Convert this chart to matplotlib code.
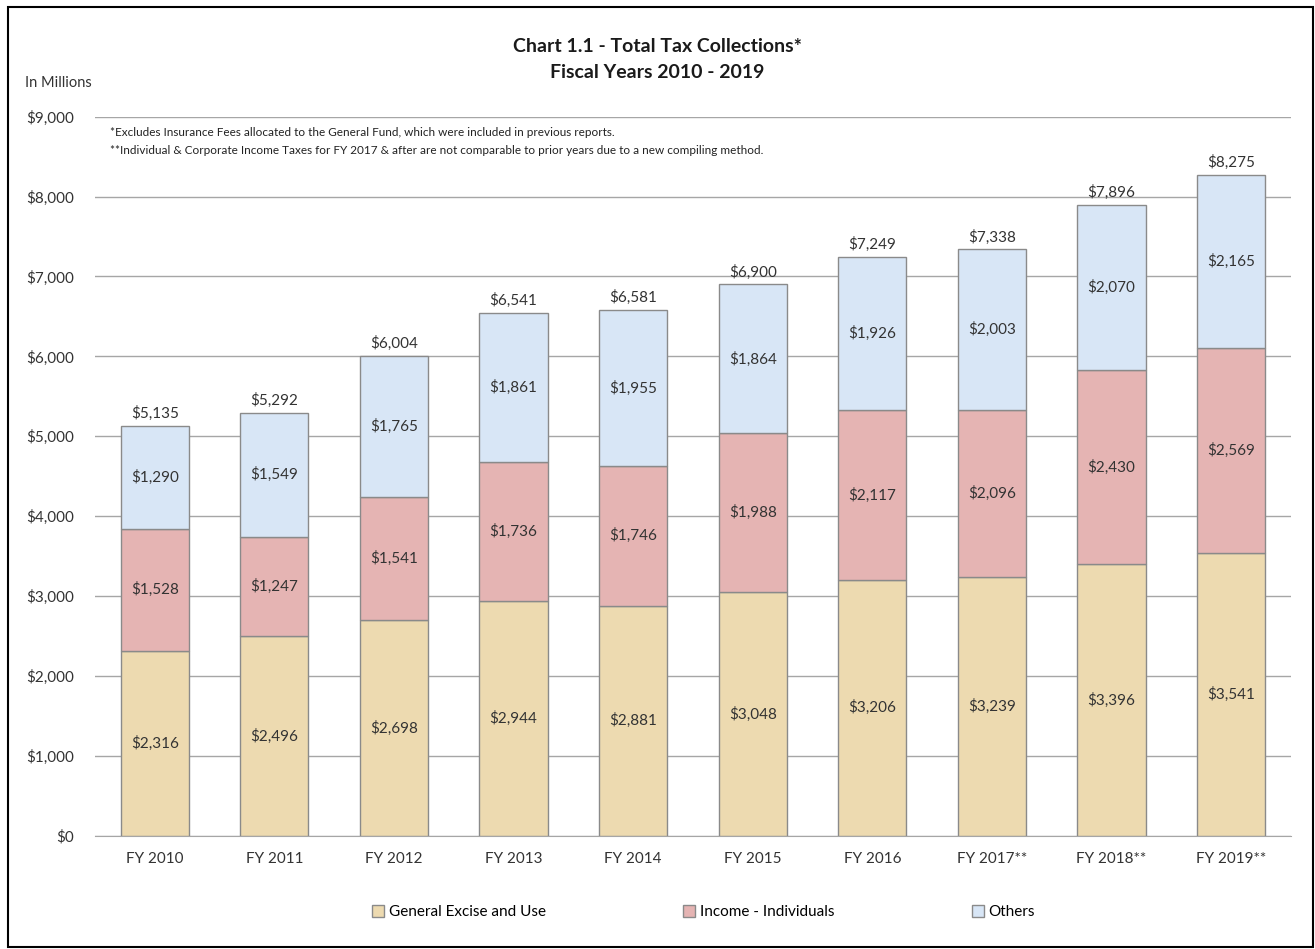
import matplotlib.pyplot as plt
import numpy as np
from matplotlib.patches import Patch, Rectangle

years = ["FY 2010", "FY 2011", "FY 2012", "FY 2013", "FY 2014",
         "FY 2015", "FY 2016", "FY 2017**", "FY 2018**", "FY 2019**"]
general_excise = [2316, 2496, 2698, 2944, 2881, 3048, 3206, 3239, 3396, 3541]
income_individuals = [1528, 1247, 1541, 1736, 1746, 1988, 2117, 2096, 2430, 2569]
others = [1290, 1549, 1765, 1861, 1955, 1864, 1926, 2003, 2070, 2165]
totals = [5135, 5292, 6004, 6541, 6581, 6900, 7249, 7338, 7896, 8275]

plt.rcParams["font.family"] = ["Lato", "DejaVu Sans"]
TXT = "#333333"

fig = plt.figure(figsize=(13.15, 9.49), dpi=100)
ax = fig.add_axes([0.0722, 0.1194, 0.9095, 0.7576])

x = np.arange(len(years))
w = 0.57
edge = "#8a8a8a"
series = [
    ("General Excise and Use", general_excise, "#EDDAB0"),
    ("Income - Individuals", income_individuals, "#E5B4B3"),
    ("Others", others, "#D8E6F6"),
]

# stacked segments, each labelled in its middle
bottom = np.zeros(len(years))
for name, vals, color in series:
    vals = np.array(vals)
    ax.bar(x, vals, w, bottom=bottom, color=color, edgecolor=edge, linewidth=1, zorder=3)
    for xi, b, v in zip(x, bottom, vals):
        ax.text(xi, b + v / 2, f"${v:,}", ha="center", va="center", fontsize=11, color=TXT, zorder=4)
    bottom += vals

for xi, top, t in zip(x, bottom, totals):
    ax.text(xi, top + 60, f"${t:,}", ha="center", va="bottom", fontsize=11, color=TXT)

ax.set_xlim(-0.5, len(years) - 0.5)
ax.set_ylim(0, 9000)
ax.set_yticks(range(0, 9001, 1000))
ax.set_yticklabels([f"${v:,}" for v in range(0, 9001, 1000)])
ax.set_xticks(x)
ax.set_xticklabels(years)
ax.tick_params(axis="both", length=0, labelsize=11, colors=TXT)
ax.tick_params(axis="y", pad=15)
ax.tick_params(axis="x", pad=12)
ax.yaxis.grid(True, color="#A6A6A6", linewidth=1, zorder=0)
for s in ["top", "right", "left"]:
    ax.spines[s].set_visible(False)
ax.spines["bottom"].set_color("#A6A6A6")

ax.text(110 / 1315, 1 - 132 / 949, "*Excludes Insurance Fees allocated to the General Fund, which were included in previous reports.",
        transform=fig.transFigure, fontsize=8.5, color="#222222", va="center")
ax.text(110 / 1315, 1 - 151 / 949, "**Individual & Corporate Income Taxes for FY 2017 & after are not comparable to prior years due to a new compiling method.",
        transform=fig.transFigure, fontsize=8.5, color="#222222", va="center")

fig.text(0.5, 1 - 47 / 949, "Chart 1.1 - Total Tax Collections*", ha="center", va="center",
         fontsize=14, fontweight="bold", color="#1a1a1a")
fig.text(0.5, 1 - 73 / 949, "Fiscal Years 2010 - 2019", ha="center", va="center",
         fontsize=14, fontweight="bold", color="#1a1a1a")
fig.text(25 / 1315, 1 - 83 / 949, "In Millions", ha="left", va="center", fontsize=10.5, color=TXT)

handles = [Patch(facecolor=c, edgecolor=edge, label=n) for n, _, c in series]
fig.legend(handles=handles, loc="center", bbox_to_anchor=(0.535, 1 - 912 / 949), ncol=3,
           frameon=False, fontsize=11, handlelength=0.8, handleheight=0.8,
           handletextpad=0.3, columnspacing=9)

fig.patches.append(Rectangle((8 / 1315, 0.002), 1305 / 1315, 1 - 7 / 949 - 0.002,
                             transform=fig.transFigure, fill=False, edgecolor="black",
                             linewidth=1.5))

fig.savefig("out.png", dpi=100)
